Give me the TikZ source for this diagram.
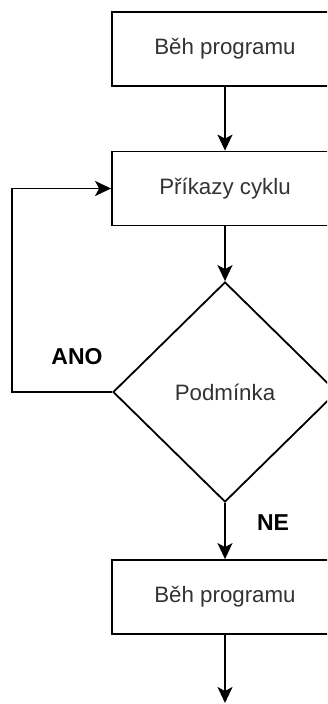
\documentclass[tikz,border=0pt]{standalone}
\usepackage{fontspec}
\setmainfont{Liberation Sans}
\usetikzlibrary{arrows.meta,shapes.geometric}
\definecolor{txtgray}{HTML}{333333}
\begin{document}
\begin{tikzpicture}[x=1pt,y=-1pt,
  line width=1.8pt,
  stepbox/.style={draw=black,fill=white,minimum width=226pt,minimum height=74pt,
    inner sep=0pt,font=\fontsize{22.3}{26}\selectfont,text=txtgray},
  decision/.style={draw=black,fill=white,diamond,minimum width=224pt,minimum height=220pt,
    inner sep=0pt,font=\fontsize{22.3}{26}\selectfont,text=txtgray},
  flow/.style={-{Stealth[length=16pt,width=15pt,inset=4pt]},draw=black},
  lbl/.style={font=\fontsize{23}{27}\selectfont\bfseries,text=black}]
\useasboundingbox (0,0) rectangle (327,704);
\begin{scope}
\clip (0,0) rectangle (327,704);
\node[stepbox] (run1) at (225,49) {Běh programu};
\node[stepbox] (body) at (225,188.5) {Příkazy cyklu};
\node[decision] (cond) at (225,392) {Podmínka};
\node[stepbox] (run2) at (225,597) {Běh programu};
\coordinate (out) at (225,703);
\coordinate (loopA) at (12,392);
\coordinate (loopB) at (12,188.5);

\draw[flow] (run1.south) -- (body.north);
\draw[flow] (body.south) -- (cond.north);
\draw[flow] (cond.west) -- (loopA) -- (loopB) -- (body.west);
\draw[flow] (cond.south) -- (run2.north);
\draw[flow] (run2.south) -- (out);

\node[lbl] (ano) at (77,357) {ANO};
\node[lbl] (ne) at (273,523) {NE};
\end{scope}
\end{tikzpicture}
\end{document}
